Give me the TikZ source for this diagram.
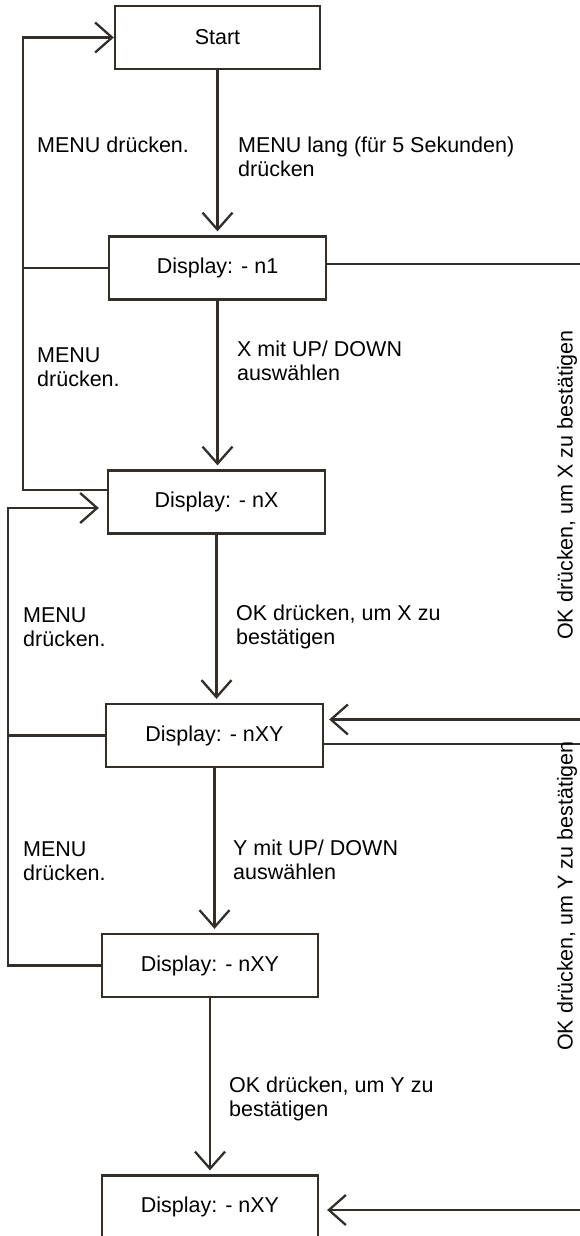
\documentclass[tikz,border=0pt]{standalone}
\usepackage{fontspec}
\setmainfont{Liberation Sans}
\usetikzlibrary{arrows.meta}
\definecolor{ink}{RGB}{52,46,43}
\begin{document}
\begin{tikzpicture}[x=1pt,y=-1pt]
\tikzstyle{bx} = [rectangle,draw=ink,line width=2.3pt,minimum width=217pt,minimum height=63pt,font=\fontsize{21.5}{24}\selectfont] %box
\tikzstyle{ln} = [-,draw=ink,line width=2.3pt] %plain line
\tikzstyle{ar} = [-{Straight Barb[length=17pt,width=30pt]},draw=ink,line width=2.3pt,shorten >=4pt] %arrow
\tikzstyle{lb} = [anchor=west,align=left,inner sep=0pt,font=\fontsize{21.5}{24}\selectfont] %label
\useasboundingbox(0,0)rectangle(580,1236);
\node[bx,minimum width=205pt](start)at(217.5,37.5){Start};
\node[bx](n1)at(217.5,268){Display: - n1};
\node[bx](nx)at(216.5,502){Display: - nX};
\node[bx](nxy)at(214.5,735.5){Display: - nXY};
\node[bx,minimum width=216pt](nxyb)at(210,965.5){Display: - nXY};
\node[bx,minimum width=216pt](nxyc)at(210,1207){Display: - nXY};
%return lines on the left
\coordinate(ma)at(23,0);
\coordinate(mb)at(8,0);
\coordinate(xa)at([yshift=12pt]nx.west);
\coordinate(xb)at([yshift=-6pt]nx.west);
%free ends on the right
\coordinate(ra)at(580,264);
\coordinate(rb)at(580,719.5);
\coordinate(rc)at(580,744);
\coordinate(rd)at(580,1210);
\draw[ar](start.south)--(start.south|-n1.north);
\draw[ar](n1.south)--(n1.south|-nx.north);
\draw[ar](nx.south)--(nx.south|-nxy.north);
\draw[ar](nxy.south)--(nxy.south|-nxyb.north);
\draw[ar](nxyb.south)--(nxyb.south|-nxyc.north);
\draw[ln](n1.west)--(ma|-n1.west);
\draw[ar,shorten >=0pt](xa)--(ma|-xa)|-(start.west);
\draw[ln](nxy.west)--(mb|-nxy.west);
\draw[ar,shorten >=8pt](nxyb.west)--(mb|-nxyb.west)|-(xb);
\draw[ln]([yshift=4pt]n1.east)--(ra);
\draw[ar,shorten >=5pt](rb)--([yshift=16pt]nxy.east);
\draw[ln]([yshift=-8.5pt]nxy.east)--(rc);
\draw[ar,shorten >=8pt](rd)--([yshift=-3pt]nxyc.east);
\node[lb](lm1)at(37,145){MENU drücken.};
\node[lb](lt1)at(238,157){MENU lang (für 5 Sekunden)\\drücken};
\node[lb](lm2)at(37,367){MENU\\drücken.};
\node[lb](lt2)at(237,361){X mit UP/ DOWN\\auswählen};
\node[lb](lm3)at(23,627){MENU\\drücken.};
\node[lb](lt3)at(236,627){OK drücken, um X zu\\bestätigen};
\node[lb](lm4)at(23,861){MENU\\drücken.};
\node[lb](lt4)at(233,860){Y mit UP/ DOWN\\auswählen};
\node[lb](lt5)at(229,1099){OK drücken, um Y zu\\bestätigen};
\node[rotate=90,font=\fontsize{21.5}{24}\selectfont](okx)at(567,485){OK drücken, um X zu bestätigen};
\node[rotate=90,font=\fontsize{21.5}{24}\selectfont](oky)at(567,896){OK drücken, um Y zu bestätigen};
\end{tikzpicture}
\end{document}
